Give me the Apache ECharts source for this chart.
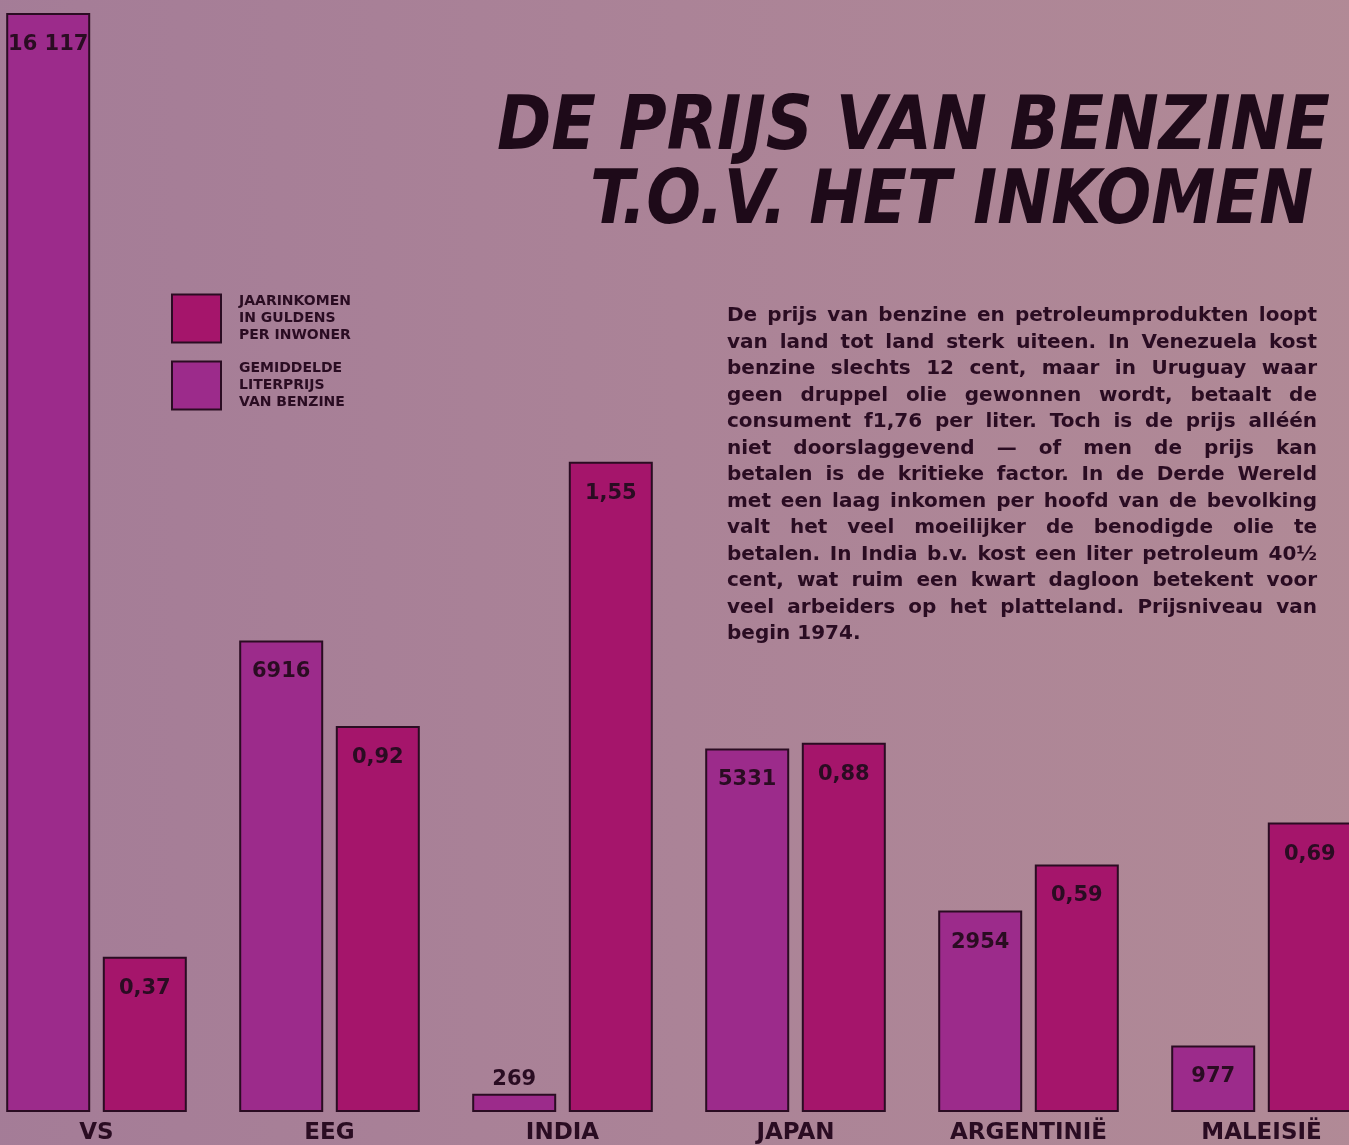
<!DOCTYPE html>
<html lang="nl">
<head>
<meta charset="utf-8">
<title>De prijs van benzine t.o.v. het inkomen</title>
<style>
  html, body { margin: 0; padding: 0; overflow: hidden; width: 1349px; height: 1145px; }
  body { background: #a98296; }
  #main { position: absolute; left: -20px; top: 0; width: 1398px; height: 1145px; }
</style>
</head>
<body>
<div id="main"></div>
<script src="https://cdn.jsdelivr.net/npm/echarts@6/dist/echarts.min.js"></script>
<script>
// gegevens
var landen = ['VS', 'EEG', 'INDIA', 'JAPAN', 'ARGENTINIË', 'MALEISIË'];
var inkomen = [16117, 6916, 269, 5331, 2954, 977];       // gulden per inwoner
var literprijs = [0.37, 0.92, 1.55, 0.88, 0.59, 0.69];  // gulden per liter
var naamInkomen = 'JAARINKOMEN\nIN GULDENS\nPER INWONER';
var naamPrijs = 'GEMIDDELDE\nLITERPRIJS\nVAN BENZINE';
var titelRegels = ['DE PRIJS VAN BENZINE', 'T.O.V. HET INKOMEN'];
var tekstRegels = [
  'De prijs van benzine en petroleumprodukten loopt',
  'van land tot land sterk uiteen. In Venezuela kost',
  'benzine slechts 12 cent, maar in Uruguay waar',
  'geen druppel olie gewonnen wordt, betaalt de',
  'consument f1,76 per liter. Toch is de prijs alléén',
  'niet doorslaggevend — of men de prijs kan',
  'betalen is de kritieke factor. In de Derde Wereld',
  'met een laag inkomen per hoofd van de bevolking',
  'valt het veel moeilijker de benodigde olie te',
  'betalen. In India b.v. kost een liter petroleum 40½',
  'cent, wat ruim een kwart dagloon betekent voor',
  'veel arbeiders op het platteland. Prijsniveau van',
  'begin 1974.'
];

var kleurInkomen = '#9c2b8b';
var kleurPrijs = '#a5156b';
var inkt = '#2a0c22';
var DX = 20; // de grafiek begint 20px links buiten beeld

var myChart = echarts.init(document.getElementById('main'));

// meten voor uitvullen van tekst
var ctx = document.createElement('canvas').getContext('2d');
var tekstFont = 'bold 20px "DejaVu Sans"';
var titelFont = 'italic bold 75px "DejaVu Sans Condensed", "Liberation Sans", sans-serif';

function regel(tekst, x0, x1, y, uitvullen) {
    ctx.font = tekstFont;
    var woorden = tekst.split(' ');
    var br = woorden.map(function (w) { return ctx.measureText(w).width; });
    var som = br.reduce(function (a, b) { return a + b; }, 0);
    var spatie = ctx.measureText(' ').width;
    var gat = (uitvullen && woorden.length > 1) ? (x1 - x0 - som) / (woorden.length - 1) : spatie;
    // te lange regel: iets samendrukken
    var schaal = 1;
    if (gat < spatie * 0.6) {
        gat = spatie * 0.6;
        schaal = (x1 - x0) / (som + gat * (woorden.length - 1));
    }
    var x = x0, els = [];
    woorden.forEach(function (w, i) {
        els.push({
            type: 'text', x: x0 + (x - x0) * schaal + DX, y: y, scaleX: schaal, silent: true,
            style: { text: w, font: tekstFont, fill: inkt, align: 'left', verticalAlign: 'middle' }
        });
        x += br[i] + gat;
    });
    return els;
}

function titel(tekst, xRechts, y, breedte) {
    ctx.font = titelFont;
    var w = ctx.measureText(tekst).width;
    return {
        type: 'text', x: xRechts + DX, y: y, scaleX: breedte / w, silent: true,
        style: { text: tekst, font: titelFont, fill: '#1e0a19', align: 'right', verticalAlign: 'middle' }
    };
}

var graphics = [
    titel(titelRegels[0], 1330, 130, 833),
    titel(titelRegels[1], 1313, 204, 723)
];
tekstRegels.forEach(function (t, i) {
    graphics = graphics.concat(regel(t, 727, 1317, 316 + i * 26.5, i < tekstRegels.length - 1));
});

function fmtInkomen(v) {
    return v >= 10000 ? String(v).replace(/(\d)(?=(\d{3})+$)/g, '$1 ') : String(v);
}

var labelStijl = {
    show: true,
    position: 'insideTop',
    distance: 21,
    color: inkt,
    fontFamily: 'DejaVu Sans',
    fontWeight: 'bold',
    fontSize: 21
};

option = {
    backgroundColor: {
        type: 'linear', x: 0, y: 0, x2: 1, y2: 0,
        colorStops: [
            { offset: 0, color: '#a47c97' },
            { offset: 0.5, color: '#ab8397' },
            { offset: 1, color: '#b18a96' }
        ]
    },
    animation: false,
    graphic: graphics,
    legend: {
        orient: 'vertical',
        left: 166 + DX,
        top: 288,
        itemWidth: 49,
        itemHeight: 48,
        itemGap: 16,
        icon: 'rect',
        selectedMode: false,
        itemStyle: { borderColor: inkt, borderWidth: 2 },
        textStyle: {
            color: inkt, fontFamily: 'DejaVu Sans', fontWeight: 'bold',
            fontSize: 14, lineHeight: 17, padding: [0, 0, 0, 13]
        },
        data: [
            { name: naamInkomen, itemStyle: { color: kleurPrijs } },
            { name: naamPrijs, itemStyle: { color: kleurInkomen } }
        ]
    },
    grid: { left: 0, right: 0, top: 13, bottom: 33 },
    xAxis: {
        type: 'category',
        data: landen,
        axisLine: { show: false },
        axisTick: { show: false },
        axisLabel: {
            margin: 10,
            color: inkt,
            fontFamily: 'DejaVu Sans',
            fontWeight: 'bold',
            fontSize: 23
        }
    },
    yAxis: [
        { type: 'value', min: 0, max: 16117, show: false, splitLine: { show: false } },
        { type: 'value', min: 0, max: 2.62, show: false, splitLine: { show: false } }
    ],
    series: [{
        name: naamInkomen,
        type: 'bar',
        yAxisIndex: 0,
        barWidth: 84,
        barGap: '15%',
        data: inkomen.map(function (v) {
            var d = { value: v };
            if (v < 500) d.label = { position: 'top', distance: 4 };
            return d;
        }),
        itemStyle: { color: kleurInkomen, borderColor: inkt, borderWidth: 2 },
        label: Object.assign({}, labelStijl, {
            formatter: function (p) { return fmtInkomen(p.value); }
        })
    }, {
        name: naamPrijs,
        type: 'bar',
        yAxisIndex: 1,
        barWidth: 84,
        data: literprijs,
        itemStyle: { color: kleurPrijs, borderColor: inkt, borderWidth: 2 },
        label: Object.assign({}, labelStijl, {
            formatter: function (p) { return p.value.toFixed(2).replace('.', ','); }
        })
    }]
};
myChart.setOption(option);
</script>
</body>
</html>
